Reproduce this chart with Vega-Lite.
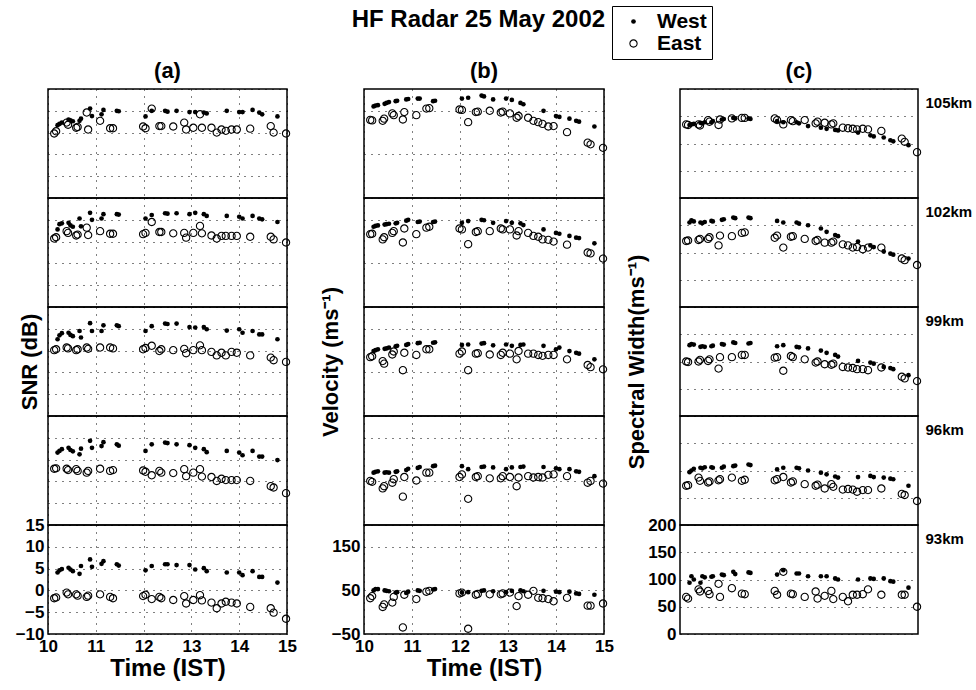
{
"$schema": "https://vega.github.io/schema/vega-lite/v6.json",
"background": "white",
"padding": {"left": 14, "top": 5, "right": 5, "bottom": 5},
"title": {"text": "HF Radar 25 May 2002", "fontSize": 24, "anchor": "middle", "offset": 0, "dy": 26, "dx": -15},
"bounds": "flush",
"align": "all",
"columns": 3,
"spacing": {"row": 0, "column": 76},
"concat": [
{"width": 239, "height": 109, "title": {"text": "(a)", "fontSize": 22, "offset": 6, "anchor": "middle", "frame": "group"}, "data": {"name": "r"}, "transform": [{"filter": "datum.h === '105km'"}], "mark": {"type": "point", "filled": true, "color": "black", "opacity": 1},
 "encoding": {"x": {"field": "t", "type": "quantitative", "scale": {"domain": [10, 15], "nice": false, "zero": false}, "axis": {"values": [10, 11, 12, 13, 14, 15], "labels": false, "title": null}},
  "y": {"field": "a", "type": "quantitative", "scale": {"domain": [-10, 15], "nice": false, "zero": false}, "axis": {"values": [-10, -5, 0, 5, 10, 15], "labels": false, "title": null}},
  "shape": {"field": "d", "type": "nominal", "scale": {"domain": ["West", "East"], "range": ["circle", "M -1 0 A 1 1 0 1 0 1 0 A 1 1 0 1 0 -1 0 Z M -0.74 0 A 0.74 0.74 0 1 1 0.74 0 A 0.74 0.74 0 1 1 -0.74 0 Z"]}, "legend": {"title": null, "labelExpr": "datum.label + '  '"}},
  "size": {"field": "d", "type": "nominal", "scale": {"domain": ["West", "East"], "range": [22, 70]}, "legend": {"title": null, "labelExpr": "datum.label + '  '"}}}},
{"width": 240, "height": 109, "title": {"text": "(b)", "fontSize": 22, "offset": 6, "anchor": "middle", "frame": "group"}, "data": {"name": "r"}, "transform": [{"filter": "datum.h === '105km'"}], "mark": {"type": "point", "filled": true, "color": "black", "opacity": 1},
 "encoding": {"x": {"field": "t", "type": "quantitative", "scale": {"domain": [10, 15], "nice": false, "zero": false}, "axis": {"values": [10, 11, 12, 13, 14, 15], "labels": false, "title": null}},
  "y": {"field": "b", "type": "quantitative", "scale": {"domain": [-50, 200], "nice": false, "zero": false}, "axis": {"values": [-50, 50, 150], "labels": false, "title": null}},
  "shape": {"field": "d", "type": "nominal", "scale": {"domain": ["West", "East"], "range": ["circle", "M -1 0 A 1 1 0 1 0 1 0 A 1 1 0 1 0 -1 0 Z M -0.74 0 A 0.74 0.74 0 1 1 0.74 0 A 0.74 0.74 0 1 1 -0.74 0 Z"]}, "legend": {"title": null, "labelExpr": "datum.label + '  '"}},
  "size": {"field": "d", "type": "nominal", "scale": {"domain": ["West", "East"], "range": [22, 70]}, "legend": {"title": null, "labelExpr": "datum.label + '  '"}}}},
{"width": 238, "height": 109, "title": {"text": "(c)", "fontSize": 22, "offset": 6, "anchor": "middle", "frame": "group"}, "data": {"name": "r"}, "transform": [{"filter": "datum.h === '105km'"}],
 "layer": [
  {"mark": {"type": "point", "filled": true, "color": "black", "opacity": 1},
   "encoding": {"x": {"field": "t", "type": "quantitative", "scale": {"domain": [10, 15], "nice": false, "zero": false}, "axis": {"values": [10, 11, 12, 13, 14, 15], "labels": false, "title": null}},
    "y": {"field": "c", "type": "quantitative", "scale": {"domain": [0, 200], "nice": false, "zero": false}, "axis": {"values": [0, 50, 100, 150, 200], "labels": false, "title": null}},
    "shape": {"field": "d", "type": "nominal", "scale": {"domain": ["West", "East"], "range": ["circle", "M -1 0 A 1 1 0 1 0 1 0 A 1 1 0 1 0 -1 0 Z M -0.74 0 A 0.74 0.74 0 1 1 0.74 0 A 0.74 0.74 0 1 1 -0.74 0 Z"]}, "legend": {"title": null, "labelExpr": "datum.label + '  '"}},
    "size": {"field": "d", "type": "nominal", "scale": {"domain": ["West", "East"], "range": [22, 70]}, "legend": {"title": null, "labelExpr": "datum.label + '  '"}}}},
  {"mark": {"type": "point", "opacity": 0},
   "encoding": {"x": {"field": "t", "type": "quantitative", "axis": null},
    "y": {"field": "c", "type": "quantitative", "scale": {"domain": [0, 200], "nice": false, "zero": false}, "axis": {"orient": "right", "labels": false, "grid": false, "title": "105km", "titleAngle": 0, "titleAlign": "left", "titleBaseline": "top", "titleX": 7, "titleY": 6, "titleFontSize": 15}}}}
 ], "resolve": {"scale": {"y": "independent"}}},
{"width": 239, "height": 109, "data": {"name": "r"}, "transform": [{"filter": "datum.h === '102km'"}], "mark": {"type": "point", "filled": true, "color": "black", "opacity": 1},
 "encoding": {"x": {"field": "t", "type": "quantitative", "scale": {"domain": [10, 15], "nice": false, "zero": false}, "axis": {"values": [10, 11, 12, 13, 14, 15], "labels": false, "title": null}},
  "y": {"field": "a", "type": "quantitative", "scale": {"domain": [-10, 15], "nice": false, "zero": false}, "axis": {"values": [-10, -5, 0, 5, 10, 15], "labels": false, "title": null}},
  "shape": {"field": "d", "type": "nominal", "scale": {"domain": ["West", "East"], "range": ["circle", "M -1 0 A 1 1 0 1 0 1 0 A 1 1 0 1 0 -1 0 Z M -0.74 0 A 0.74 0.74 0 1 1 0.74 0 A 0.74 0.74 0 1 1 -0.74 0 Z"]}, "legend": {"title": null, "labelExpr": "datum.label + '  '"}},
  "size": {"field": "d", "type": "nominal", "scale": {"domain": ["West", "East"], "range": [22, 70]}, "legend": {"title": null, "labelExpr": "datum.label + '  '"}}}},
{"width": 240, "height": 109, "data": {"name": "r"}, "transform": [{"filter": "datum.h === '102km'"}], "mark": {"type": "point", "filled": true, "color": "black", "opacity": 1},
 "encoding": {"x": {"field": "t", "type": "quantitative", "scale": {"domain": [10, 15], "nice": false, "zero": false}, "axis": {"values": [10, 11, 12, 13, 14, 15], "labels": false, "title": null}},
  "y": {"field": "b", "type": "quantitative", "scale": {"domain": [-50, 200], "nice": false, "zero": false}, "axis": {"values": [-50, 50, 150], "labels": false, "title": null}},
  "shape": {"field": "d", "type": "nominal", "scale": {"domain": ["West", "East"], "range": ["circle", "M -1 0 A 1 1 0 1 0 1 0 A 1 1 0 1 0 -1 0 Z M -0.74 0 A 0.74 0.74 0 1 1 0.74 0 A 0.74 0.74 0 1 1 -0.74 0 Z"]}, "legend": {"title": null, "labelExpr": "datum.label + '  '"}},
  "size": {"field": "d", "type": "nominal", "scale": {"domain": ["West", "East"], "range": [22, 70]}, "legend": {"title": null, "labelExpr": "datum.label + '  '"}}}},
{"width": 238, "height": 109, "data": {"name": "r"}, "transform": [{"filter": "datum.h === '102km'"}],
 "layer": [
  {"mark": {"type": "point", "filled": true, "color": "black", "opacity": 1},
   "encoding": {"x": {"field": "t", "type": "quantitative", "scale": {"domain": [10, 15], "nice": false, "zero": false}, "axis": {"values": [10, 11, 12, 13, 14, 15], "labels": false, "title": null}},
    "y": {"field": "c", "type": "quantitative", "scale": {"domain": [0, 200], "nice": false, "zero": false}, "axis": {"values": [0, 50, 100, 150, 200], "labels": false, "title": null}},
    "shape": {"field": "d", "type": "nominal", "scale": {"domain": ["West", "East"], "range": ["circle", "M -1 0 A 1 1 0 1 0 1 0 A 1 1 0 1 0 -1 0 Z M -0.74 0 A 0.74 0.74 0 1 1 0.74 0 A 0.74 0.74 0 1 1 -0.74 0 Z"]}, "legend": {"title": null, "labelExpr": "datum.label + '  '"}},
    "size": {"field": "d", "type": "nominal", "scale": {"domain": ["West", "East"], "range": [22, 70]}, "legend": {"title": null, "labelExpr": "datum.label + '  '"}}}},
  {"mark": {"type": "point", "opacity": 0},
   "encoding": {"x": {"field": "t", "type": "quantitative", "axis": null},
    "y": {"field": "c", "type": "quantitative", "scale": {"domain": [0, 200], "nice": false, "zero": false}, "axis": {"orient": "right", "labels": false, "grid": false, "title": "102km", "titleAngle": 0, "titleAlign": "left", "titleBaseline": "top", "titleX": 7, "titleY": 6, "titleFontSize": 15}}}}
 ], "resolve": {"scale": {"y": "independent"}}},
{"width": 239, "height": 109, "data": {"name": "r"}, "transform": [{"filter": "datum.h === '99km'"}], "mark": {"type": "point", "filled": true, "color": "black", "opacity": 1},
 "encoding": {"x": {"field": "t", "type": "quantitative", "scale": {"domain": [10, 15], "nice": false, "zero": false}, "axis": {"values": [10, 11, 12, 13, 14, 15], "labels": false, "title": null}},
  "y": {"field": "a", "type": "quantitative", "scale": {"domain": [-10, 15], "nice": false, "zero": false}, "axis": {"values": [-10, -5, 0, 5, 10, 15], "labels": false, "title": "SNR (dB)", "titlePadding": 7}},
  "shape": {"field": "d", "type": "nominal", "scale": {"domain": ["West", "East"], "range": ["circle", "M -1 0 A 1 1 0 1 0 1 0 A 1 1 0 1 0 -1 0 Z M -0.74 0 A 0.74 0.74 0 1 1 0.74 0 A 0.74 0.74 0 1 1 -0.74 0 Z"]}, "legend": {"title": null, "labelExpr": "datum.label + '  '"}},
  "size": {"field": "d", "type": "nominal", "scale": {"domain": ["West", "East"], "range": [22, 70]}, "legend": {"title": null, "labelExpr": "datum.label + '  '"}}}},
{"width": 240, "height": 109, "data": {"name": "r"}, "transform": [{"filter": "datum.h === '99km'"}], "mark": {"type": "point", "filled": true, "color": "black", "opacity": 1},
 "encoding": {"x": {"field": "t", "type": "quantitative", "scale": {"domain": [10, 15], "nice": false, "zero": false}, "axis": {"values": [10, 11, 12, 13, 14, 15], "labels": false, "title": null}},
  "y": {"field": "b", "type": "quantitative", "scale": {"domain": [-50, 200], "nice": false, "zero": false}, "axis": {"values": [-50, 50, 150], "labels": false, "title": "Velocity (ms⁻¹)", "titlePadding": 22}},
  "shape": {"field": "d", "type": "nominal", "scale": {"domain": ["West", "East"], "range": ["circle", "M -1 0 A 1 1 0 1 0 1 0 A 1 1 0 1 0 -1 0 Z M -0.74 0 A 0.74 0.74 0 1 1 0.74 0 A 0.74 0.74 0 1 1 -0.74 0 Z"]}, "legend": {"title": null, "labelExpr": "datum.label + '  '"}},
  "size": {"field": "d", "type": "nominal", "scale": {"domain": ["West", "East"], "range": [22, 70]}, "legend": {"title": null, "labelExpr": "datum.label + '  '"}}}},
{"width": 238, "height": 109, "data": {"name": "r"}, "transform": [{"filter": "datum.h === '99km'"}],
 "layer": [
  {"mark": {"type": "point", "filled": true, "color": "black", "opacity": 1},
   "encoding": {"x": {"field": "t", "type": "quantitative", "scale": {"domain": [10, 15], "nice": false, "zero": false}, "axis": {"values": [10, 11, 12, 13, 14, 15], "labels": false, "title": null}},
    "y": {"field": "c", "type": "quantitative", "scale": {"domain": [0, 200], "nice": false, "zero": false}, "axis": {"values": [0, 50, 100, 150, 200], "labels": false, "title": "Spectral Width(ms⁻¹)", "titlePadding": 32}},
    "shape": {"field": "d", "type": "nominal", "scale": {"domain": ["West", "East"], "range": ["circle", "M -1 0 A 1 1 0 1 0 1 0 A 1 1 0 1 0 -1 0 Z M -0.74 0 A 0.74 0.74 0 1 1 0.74 0 A 0.74 0.74 0 1 1 -0.74 0 Z"]}, "legend": {"title": null, "labelExpr": "datum.label + '  '"}},
    "size": {"field": "d", "type": "nominal", "scale": {"domain": ["West", "East"], "range": [22, 70]}, "legend": {"title": null, "labelExpr": "datum.label + '  '"}}}},
  {"mark": {"type": "point", "opacity": 0},
   "encoding": {"x": {"field": "t", "type": "quantitative", "axis": null},
    "y": {"field": "c", "type": "quantitative", "scale": {"domain": [0, 200], "nice": false, "zero": false}, "axis": {"orient": "right", "labels": false, "grid": false, "title": "99km", "titleAngle": 0, "titleAlign": "left", "titleBaseline": "top", "titleX": 7, "titleY": 6, "titleFontSize": 15}}}}
 ], "resolve": {"scale": {"y": "independent"}}},
{"width": 239, "height": 109, "data": {"name": "r"}, "transform": [{"filter": "datum.h === '96km'"}], "mark": {"type": "point", "filled": true, "color": "black", "opacity": 1},
 "encoding": {"x": {"field": "t", "type": "quantitative", "scale": {"domain": [10, 15], "nice": false, "zero": false}, "axis": {"values": [10, 11, 12, 13, 14, 15], "labels": false, "title": null}},
  "y": {"field": "a", "type": "quantitative", "scale": {"domain": [-10, 15], "nice": false, "zero": false}, "axis": {"values": [-10, -5, 0, 5, 10, 15], "labels": false, "title": null}},
  "shape": {"field": "d", "type": "nominal", "scale": {"domain": ["West", "East"], "range": ["circle", "M -1 0 A 1 1 0 1 0 1 0 A 1 1 0 1 0 -1 0 Z M -0.74 0 A 0.74 0.74 0 1 1 0.74 0 A 0.74 0.74 0 1 1 -0.74 0 Z"]}, "legend": {"title": null, "labelExpr": "datum.label + '  '"}},
  "size": {"field": "d", "type": "nominal", "scale": {"domain": ["West", "East"], "range": [22, 70]}, "legend": {"title": null, "labelExpr": "datum.label + '  '"}}}},
{"width": 240, "height": 109, "data": {"name": "r"}, "transform": [{"filter": "datum.h === '96km'"}], "mark": {"type": "point", "filled": true, "color": "black", "opacity": 1},
 "encoding": {"x": {"field": "t", "type": "quantitative", "scale": {"domain": [10, 15], "nice": false, "zero": false}, "axis": {"values": [10, 11, 12, 13, 14, 15], "labels": false, "title": null}},
  "y": {"field": "b", "type": "quantitative", "scale": {"domain": [-50, 200], "nice": false, "zero": false}, "axis": {"values": [-50, 50, 150], "labels": false, "title": null}},
  "shape": {"field": "d", "type": "nominal", "scale": {"domain": ["West", "East"], "range": ["circle", "M -1 0 A 1 1 0 1 0 1 0 A 1 1 0 1 0 -1 0 Z M -0.74 0 A 0.74 0.74 0 1 1 0.74 0 A 0.74 0.74 0 1 1 -0.74 0 Z"]}, "legend": {"title": null, "labelExpr": "datum.label + '  '"}},
  "size": {"field": "d", "type": "nominal", "scale": {"domain": ["West", "East"], "range": [22, 70]}, "legend": {"title": null, "labelExpr": "datum.label + '  '"}}}},
{"width": 238, "height": 109, "data": {"name": "r"}, "transform": [{"filter": "datum.h === '96km'"}],
 "layer": [
  {"mark": {"type": "point", "filled": true, "color": "black", "opacity": 1},
   "encoding": {"x": {"field": "t", "type": "quantitative", "scale": {"domain": [10, 15], "nice": false, "zero": false}, "axis": {"values": [10, 11, 12, 13, 14, 15], "labels": false, "title": null}},
    "y": {"field": "c", "type": "quantitative", "scale": {"domain": [0, 200], "nice": false, "zero": false}, "axis": {"values": [0, 50, 100, 150, 200], "labels": false, "title": null}},
    "shape": {"field": "d", "type": "nominal", "scale": {"domain": ["West", "East"], "range": ["circle", "M -1 0 A 1 1 0 1 0 1 0 A 1 1 0 1 0 -1 0 Z M -0.74 0 A 0.74 0.74 0 1 1 0.74 0 A 0.74 0.74 0 1 1 -0.74 0 Z"]}, "legend": {"title": null, "labelExpr": "datum.label + '  '"}},
    "size": {"field": "d", "type": "nominal", "scale": {"domain": ["West", "East"], "range": [22, 70]}, "legend": {"title": null, "labelExpr": "datum.label + '  '"}}}},
  {"mark": {"type": "point", "opacity": 0},
   "encoding": {"x": {"field": "t", "type": "quantitative", "axis": null},
    "y": {"field": "c", "type": "quantitative", "scale": {"domain": [0, 200], "nice": false, "zero": false}, "axis": {"orient": "right", "labels": false, "grid": false, "title": "96km", "titleAngle": 0, "titleAlign": "left", "titleBaseline": "top", "titleX": 7, "titleY": 6, "titleFontSize": 15}}}}
 ], "resolve": {"scale": {"y": "independent"}}},
{"width": 239, "height": 109, "data": {"name": "r"}, "transform": [{"filter": "datum.h === '93km'"}], "mark": {"type": "point", "filled": true, "color": "black", "opacity": 1},
 "encoding": {"x": {"field": "t", "type": "quantitative", "scale": {"domain": [10, 15], "nice": false, "zero": false}, "axis": {"values": [10, 11, 12, 13, 14, 15], "title": "Time (IST)"}},
  "y": {"field": "a", "type": "quantitative", "scale": {"domain": [-10, 15], "nice": false, "zero": false}, "axis": {"values": [-10, -5, 0, 5, 10, 15], "title": null}},
  "shape": {"field": "d", "type": "nominal", "scale": {"domain": ["West", "East"], "range": ["circle", "M -1 0 A 1 1 0 1 0 1 0 A 1 1 0 1 0 -1 0 Z M -0.74 0 A 0.74 0.74 0 1 1 0.74 0 A 0.74 0.74 0 1 1 -0.74 0 Z"]}, "legend": {"title": null, "labelExpr": "datum.label + '  '"}},
  "size": {"field": "d", "type": "nominal", "scale": {"domain": ["West", "East"], "range": [22, 70]}, "legend": {"title": null, "labelExpr": "datum.label + '  '"}}}},
{"width": 240, "height": 109, "data": {"name": "r"}, "transform": [{"filter": "datum.h === '93km'"}], "mark": {"type": "point", "filled": true, "color": "black", "opacity": 1},
 "encoding": {"x": {"field": "t", "type": "quantitative", "scale": {"domain": [10, 15], "nice": false, "zero": false}, "axis": {"values": [10, 11, 12, 13, 14, 15], "title": "Time (IST)"}},
  "y": {"field": "b", "type": "quantitative", "scale": {"domain": [-50, 200], "nice": false, "zero": false}, "axis": {"values": [-50, 50, 150], "title": null}},
  "shape": {"field": "d", "type": "nominal", "scale": {"domain": ["West", "East"], "range": ["circle", "M -1 0 A 1 1 0 1 0 1 0 A 1 1 0 1 0 -1 0 Z M -0.74 0 A 0.74 0.74 0 1 1 0.74 0 A 0.74 0.74 0 1 1 -0.74 0 Z"]}, "legend": {"title": null, "labelExpr": "datum.label + '  '"}},
  "size": {"field": "d", "type": "nominal", "scale": {"domain": ["West", "East"], "range": [22, 70]}, "legend": {"title": null, "labelExpr": "datum.label + '  '"}}}},
{"width": 238, "height": 109, "data": {"name": "r"}, "transform": [{"filter": "datum.h === '93km'"}],
 "layer": [
  {"mark": {"type": "point", "filled": true, "color": "black", "opacity": 1},
   "encoding": {"x": {"field": "t", "type": "quantitative", "scale": {"domain": [10, 15], "nice": false, "zero": false}, "axis": {"values": [10, 11, 12, 13, 14, 15], "title": "Time (IST)"}},
    "y": {"field": "c", "type": "quantitative", "scale": {"domain": [0, 200], "nice": false, "zero": false}, "axis": {"values": [0, 50, 100, 150, 200], "title": null}},
    "shape": {"field": "d", "type": "nominal", "scale": {"domain": ["West", "East"], "range": ["circle", "M -1 0 A 1 1 0 1 0 1 0 A 1 1 0 1 0 -1 0 Z M -0.74 0 A 0.74 0.74 0 1 1 0.74 0 A 0.74 0.74 0 1 1 -0.74 0 Z"]}, "legend": {"title": null, "labelExpr": "datum.label + '  '"}},
    "size": {"field": "d", "type": "nominal", "scale": {"domain": ["West", "East"], "range": [22, 70]}, "legend": {"title": null, "labelExpr": "datum.label + '  '"}}}},
  {"mark": {"type": "point", "opacity": 0},
   "encoding": {"x": {"field": "t", "type": "quantitative", "axis": null},
    "y": {"field": "c", "type": "quantitative", "scale": {"domain": [0, 200], "nice": false, "zero": false}, "axis": {"orient": "right", "labels": false, "grid": false, "title": "93km", "titleAngle": 0, "titleAlign": "left", "titleBaseline": "top", "titleX": 7, "titleY": 6, "titleFontSize": 15}}}}
 ], "resolve": {"scale": {"y": "independent"}}}
],
"config": {
 "font": "Liberation Sans",
 "view": {"stroke": "black", "strokeWidth": 1.5},
 "axis": {"grid": true, "gridColor": "black", "gridDash": [1, 6], "gridOpacity": 1, "gridWidth": 1, "domain": false, "ticks": false, "labelFont": "Liberation Sans", "labelFontSize": 17, "labelFontWeight": "bold", "labelColor": "black", "labelPadding": 4, "labelOverlap": false, "titleFont": "Liberation Sans", "titleFontSize": 22, "titleFontWeight": "bold", "titleColor": "black"},
 "axisX": {"labelFlush": false, "titleFontSize": 24, "titlePadding": 2},
 "title": {"font": "Liberation Sans", "fontWeight": "bold", "color": "black"},
 "legend": {"orient": "none", "legendX": 564, "legendY": -83, "strokeColor": "black", "padding": 5, "labelFont": "Liberation Sans", "labelFontSize": 21, "labelFontWeight": "bold", "labelColor": "black", "symbolOffset": 6, "rowPadding": 0, "labelOffset": 13}
},
"datasets": {"r": [
{"t":10.13,"h":"105km","d":"East","a":4.8,"b":129,"c":135},
{"t":10.17,"h":"105km","d":"East","a":5.3,"b":128,"c":134},
{"t":10.39,"h":"105km","d":"East","a":7.3,"b":127,"c":135},
{"t":10.42,"h":"105km","d":"East","a":6.8,"b":132,"c":133},
{"t":10.59,"h":"105km","d":"East","a":6.1,"b":144,"c":143},
{"t":10.62,"h":"105km","d":"East","a":6.3,"b":140,"c":140},
{"t":10.81,"h":"105km","d":"East","a":9.6,"b":130,"c":134},
{"t":10.84,"h":"105km","d":"East","a":5.7,"b":147,"c":144},
{"t":11.09,"h":"105km","d":"East","a":7.7,"b":140,"c":146},
{"t":11.30,"h":"105km","d":"East","a":6.0,"b":155,"c":147},
{"t":11.36,"h":"105km","d":"East","a":6.0,"b":156,"c":147},
{"t":11.99,"h":"105km","d":"East","a":6.4,"b":153,"c":146},
{"t":12.04,"h":"105km","d":"East","a":6.0,"b":152,"c":143},
{"t":12.17,"h":"105km","d":"East","a":10.5,"b":124,"c":135},
{"t":12.33,"h":"105km","d":"East","a":6.5,"b":147,"c":143},
{"t":12.37,"h":"105km","d":"East","a":6.5,"b":148,"c":141},
{"t":12.62,"h":"105km","d":"East","a":6.4,"b":150,"c":143},
{"t":12.85,"h":"105km","d":"East","a":7.3,"b":146,"c":137},
{"t":12.89,"h":"105km","d":"East","a":5.7,"b":148,"c":140},
{"t":13.04,"h":"105km","d":"East","a":6.1,"b":144,"c":138},
{"t":13.18,"h":"105km","d":"East","a":9.2,"b":134,"c":135},
{"t":13.22,"h":"105km","d":"East","a":6.1,"b":138,"c":137},
{"t":13.42,"h":"105km","d":"East","a":6.1,"b":134,"c":129},
{"t":13.53,"h":"105km","d":"East","a":5.0,"b":127,"c":128},
{"t":13.63,"h":"105km","d":"East","a":5.7,"b":124,"c":127},
{"t":13.72,"h":"105km","d":"East","a":5.4,"b":120,"c":126},
{"t":13.84,"h":"105km","d":"East","a":5.7,"b":114,"c":127},
{"t":13.95,"h":"105km","d":"East","a":5.7,"b":115,"c":126},
{"t":14.23,"h":"105km","d":"East","a":5.9,"b":101,"c":123},
{"t":14.66,"h":"105km","d":"East","a":6.5,"b":77,"c":109},
{"t":14.72,"h":"105km","d":"East","a":5.0,"b":73,"c":103},
{"t":14.98,"h":"105km","d":"East","a":4.8,"b":65,"c":84},
{"t":10.20,"h":"105km","d":"West","a":6.7,"b":160,"c":134},
{"t":10.24,"h":"105km","d":"West","a":7.0,"b":162,"c":135},
{"t":10.29,"h":"105km","d":"West","a":7.3,"b":163,"c":136},
{"t":10.43,"h":"105km","d":"West","a":8.0,"b":166,"c":138},
{"t":10.47,"h":"105km","d":"West","a":7.8,"b":168,"c":137},
{"t":10.52,"h":"105km","d":"West","a":7.6,"b":170,"c":139},
{"t":10.66,"h":"105km","d":"West","a":7.7,"b":172,"c":139},
{"t":10.69,"h":"105km","d":"West","a":8.2,"b":173,"c":141},
{"t":10.88,"h":"105km","d":"West","a":10.5,"b":176,"c":144},
{"t":10.92,"h":"105km","d":"West","a":8.8,"b":177,"c":145},
{"t":11.12,"h":"105km","d":"West","a":9.2,"b":178,"c":147},
{"t":11.16,"h":"105km","d":"West","a":10.2,"b":178,"c":146},
{"t":11.44,"h":"105km","d":"West","a":10.0,"b":172,"c":146},
{"t":11.48,"h":"105km","d":"West","a":9.9,"b":173,"c":145},
{"t":12.04,"h":"105km","d":"West","a":8.7,"b":178,"c":141},
{"t":12.17,"h":"105km","d":"West","a":10.0,"b":180,"c":139},
{"t":12.45,"h":"105km","d":"West","a":10.0,"b":185,"c":139},
{"t":12.50,"h":"105km","d":"West","a":9.8,"b":183,"c":137},
{"t":12.69,"h":"105km","d":"West","a":10.0,"b":176,"c":132},
{"t":12.96,"h":"105km","d":"West","a":9.7,"b":178,"c":129},
{"t":13.08,"h":"105km","d":"West","a":9.7,"b":175,"c":127},
{"t":13.26,"h":"105km","d":"West","a":9.6,"b":168,"c":125},
{"t":13.32,"h":"105km","d":"West","a":9.4,"b":165,"c":124},
{"t":13.74,"h":"105km","d":"West","a":10.0,"b":150,"c":120},
{"t":14.00,"h":"105km","d":"West","a":9.7,"b":138,"c":115},
{"t":14.07,"h":"105km","d":"West","a":9.7,"b":136,"c":113},
{"t":14.28,"h":"105km","d":"West","a":10.2,"b":132,"c":111},
{"t":14.42,"h":"105km","d":"West","a":9.6,"b":127,"c":106},
{"t":14.48,"h":"105km","d":"West","a":9.2,"b":125,"c":104},
{"t":14.80,"h":"105km","d":"West","a":8.7,"b":114,"c":97},
{"t":10.13,"h":"102km","d":"East","a":5.7,"b":117,"c":121},
{"t":10.17,"h":"102km","d":"East","a":6.0,"b":118,"c":122},
{"t":10.39,"h":"102km","d":"East","a":7.4,"b":105,"c":123},
{"t":10.42,"h":"102km","d":"East","a":7.0,"b":110,"c":125},
{"t":10.59,"h":"102km","d":"East","a":6.4,"b":120,"c":125},
{"t":10.62,"h":"102km","d":"East","a":6.6,"b":124,"c":128},
{"t":10.81,"h":"102km","d":"East","a":8.2,"b":98,"c":113},
{"t":10.84,"h":"102km","d":"East","a":6.5,"b":130,"c":131},
{"t":11.09,"h":"102km","d":"East","a":7.4,"b":117,"c":130},
{"t":11.30,"h":"102km","d":"East","a":6.8,"b":132,"c":136},
{"t":11.36,"h":"102km","d":"East","a":6.8,"b":134,"c":137},
{"t":11.99,"h":"102km","d":"East","a":6.7,"b":130,"c":127},
{"t":12.04,"h":"102km","d":"East","a":7.0,"b":128,"c":131},
{"t":12.17,"h":"102km","d":"East","a":9.5,"b":94,"c":109},
{"t":12.33,"h":"102km","d":"East","a":7.2,"b":122,"c":129},
{"t":12.37,"h":"102km","d":"East","a":7.2,"b":124,"c":130},
{"t":12.62,"h":"102km","d":"East","a":6.9,"b":124,"c":125},
{"t":12.85,"h":"102km","d":"East","a":7.0,"b":130,"c":121},
{"t":12.89,"h":"102km","d":"East","a":5.9,"b":128,"c":123},
{"t":13.04,"h":"102km","d":"East","a":7.0,"b":128,"c":118},
{"t":13.18,"h":"102km","d":"East","a":8.6,"b":114,"c":118},
{"t":13.22,"h":"102km","d":"East","a":6.9,"b":124,"c":120},
{"t":13.42,"h":"102km","d":"East","a":6.4,"b":120,"c":115},
{"t":13.53,"h":"102km","d":"East","a":5.7,"b":113,"c":113},
{"t":13.63,"h":"102km","d":"East","a":6.3,"b":111,"c":109},
{"t":13.72,"h":"102km","d":"East","a":6.3,"b":105,"c":110},
{"t":13.84,"h":"102km","d":"East","a":6.3,"b":104,"c":106},
{"t":13.95,"h":"102km","d":"East","a":6.3,"b":100,"c":109},
{"t":14.23,"h":"102km","d":"East","a":6.1,"b":93,"c":109},
{"t":14.66,"h":"102km","d":"East","a":6.1,"b":75,"c":89},
{"t":14.72,"h":"102km","d":"East","a":5.5,"b":73,"c":86},
{"t":14.98,"h":"102km","d":"East","a":4.8,"b":61,"c":77},
{"t":10.20,"h":"102km","d":"West","a":7.8,"b":134,"c":155},
{"t":10.24,"h":"102km","d":"West","a":9.0,"b":136,"c":159},
{"t":10.29,"h":"102km","d":"West","a":9.2,"b":137,"c":157},
{"t":10.43,"h":"102km","d":"West","a":9.3,"b":139,"c":155},
{"t":10.47,"h":"102km","d":"West","a":8.7,"b":140,"c":154},
{"t":10.52,"h":"102km","d":"West","a":8.4,"b":141,"c":156},
{"t":10.66,"h":"102km","d":"West","a":10.3,"b":142,"c":158},
{"t":10.69,"h":"102km","d":"West","a":8.5,"b":143,"c":157},
{"t":10.88,"h":"102km","d":"West","a":11.6,"b":148,"c":160},
{"t":10.92,"h":"102km","d":"West","a":10.0,"b":150,"c":161},
{"t":11.12,"h":"102km","d":"West","a":10.3,"b":145,"c":164},
{"t":11.16,"h":"102km","d":"West","a":11.3,"b":146,"c":163},
{"t":11.44,"h":"102km","d":"West","a":11.3,"b":145,"c":164},
{"t":11.48,"h":"102km","d":"West","a":11.2,"b":146,"c":163},
{"t":12.04,"h":"102km","d":"West","a":10.3,"b":143,"c":158},
{"t":12.17,"h":"102km","d":"West","a":11.1,"b":147,"c":155},
{"t":12.45,"h":"102km","d":"West","a":11.5,"b":150,"c":155},
{"t":12.50,"h":"102km","d":"West","a":11.4,"b":149,"c":153},
{"t":12.69,"h":"102km","d":"West","a":11.5,"b":143,"c":150},
{"t":12.96,"h":"102km","d":"West","a":11.3,"b":147,"c":144},
{"t":13.08,"h":"102km","d":"West","a":11.6,"b":143,"c":138},
{"t":13.26,"h":"102km","d":"West","a":11.3,"b":142,"c":132},
{"t":13.32,"h":"102km","d":"West","a":10.9,"b":138,"c":130},
{"t":13.74,"h":"102km","d":"West","a":10.9,"b":128,"c":120},
{"t":14.00,"h":"102km","d":"West","a":10.7,"b":120,"c":113},
{"t":14.07,"h":"102km","d":"West","a":10.3,"b":118,"c":110},
{"t":14.28,"h":"102km","d":"West","a":10.9,"b":113,"c":102},
{"t":14.42,"h":"102km","d":"West","a":10.3,"b":109,"c":98},
{"t":14.48,"h":"102km","d":"West","a":10.1,"b":108,"c":96},
{"t":14.80,"h":"102km","d":"West","a":9.5,"b":96,"c":89},
{"t":10.13,"h":"99km","d":"East","a":5.1,"b":85,"c":100},
{"t":10.17,"h":"99km","d":"East","a":5.3,"b":87,"c":99},
{"t":10.39,"h":"99km","d":"East","a":5.7,"b":76,"c":100},
{"t":10.42,"h":"99km","d":"East","a":5.5,"b":70,"c":103},
{"t":10.59,"h":"99km","d":"East","a":5.1,"b":91,"c":101},
{"t":10.62,"h":"99km","d":"East","a":5.3,"b":98,"c":104},
{"t":10.81,"h":"99km","d":"East","a":5.7,"b":55,"c":87},
{"t":10.84,"h":"99km","d":"East","a":5.4,"b":95,"c":108},
{"t":11.09,"h":"99km","d":"East","a":5.7,"b":90,"c":108},
{"t":11.30,"h":"99km","d":"East","a":5.7,"b":103,"c":112},
{"t":11.36,"h":"99km","d":"East","a":5.5,"b":103,"c":112},
{"t":11.99,"h":"99km","d":"East","a":5.3,"b":93,"c":107},
{"t":12.04,"h":"99km","d":"East","a":5.6,"b":98,"c":108},
{"t":12.17,"h":"99km","d":"East","a":6.1,"b":55,"c":83},
{"t":12.33,"h":"99km","d":"East","a":4.9,"b":93,"c":110},
{"t":12.37,"h":"99km","d":"East","a":5.3,"b":94,"c":108},
{"t":12.62,"h":"99km","d":"East","a":5.1,"b":91,"c":104},
{"t":12.85,"h":"99km","d":"East","a":5.4,"b":90,"c":98},
{"t":12.89,"h":"99km","d":"East","a":4.4,"b":95,"c":100},
{"t":13.04,"h":"99km","d":"East","a":5.1,"b":93,"c":95},
{"t":13.18,"h":"99km","d":"East","a":6.2,"b":80,"c":94},
{"t":13.22,"h":"99km","d":"East","a":5.1,"b":99,"c":96},
{"t":13.42,"h":"99km","d":"East","a":4.7,"b":93,"c":90},
{"t":13.53,"h":"99km","d":"East","a":3.9,"b":93,"c":89},
{"t":13.63,"h":"99km","d":"East","a":4.5,"b":90,"c":88},
{"t":13.72,"h":"99km","d":"East","a":3.9,"b":88,"c":86},
{"t":13.84,"h":"99km","d":"East","a":4.7,"b":90,"c":86},
{"t":13.95,"h":"99km","d":"East","a":4.5,"b":90,"c":84},
{"t":14.23,"h":"99km","d":"East","a":3.9,"b":80,"c":89},
{"t":14.66,"h":"99km","d":"East","a":3.4,"b":67,"c":72},
{"t":14.72,"h":"99km","d":"East","a":2.8,"b":62,"c":69},
{"t":14.98,"h":"99km","d":"East","a":2.4,"b":57,"c":64},
{"t":10.20,"h":"99km","d":"West","a":7.6,"b":99,"c":130},
{"t":10.24,"h":"99km","d":"West","a":8.5,"b":101,"c":132},
{"t":10.29,"h":"99km","d":"West","a":9.0,"b":103,"c":131},
{"t":10.43,"h":"99km","d":"West","a":9.1,"b":104,"c":127},
{"t":10.47,"h":"99km","d":"West","a":8.6,"b":105,"c":128},
{"t":10.52,"h":"99km","d":"West","a":8.3,"b":107,"c":127},
{"t":10.66,"h":"99km","d":"West","a":9.5,"b":110,"c":128},
{"t":10.69,"h":"99km","d":"West","a":8.0,"b":111,"c":129},
{"t":10.88,"h":"99km","d":"West","a":11.3,"b":113,"c":132},
{"t":10.92,"h":"99km","d":"West","a":9.5,"b":115,"c":131},
{"t":11.12,"h":"99km","d":"West","a":9.5,"b":117,"c":135},
{"t":11.16,"h":"99km","d":"West","a":10.8,"b":118,"c":134},
{"t":11.44,"h":"99km","d":"West","a":10.8,"b":118,"c":133},
{"t":11.48,"h":"99km","d":"West","a":10.6,"b":119,"c":134},
{"t":12.04,"h":"99km","d":"West","a":9.5,"b":113,"c":128},
{"t":12.17,"h":"99km","d":"West","a":10.6,"b":114,"c":130},
{"t":12.45,"h":"99km","d":"West","a":11.2,"b":116,"c":127},
{"t":12.50,"h":"99km","d":"West","a":11.1,"b":117,"c":126},
{"t":12.69,"h":"99km","d":"West","a":11.2,"b":112,"c":124},
{"t":12.96,"h":"99km","d":"West","a":10.4,"b":114,"c":120},
{"t":13.08,"h":"99km","d":"West","a":10.3,"b":111,"c":116},
{"t":13.26,"h":"99km","d":"West","a":10.4,"b":113,"c":112},
{"t":13.32,"h":"99km","d":"West","a":9.9,"b":114,"c":109},
{"t":13.74,"h":"99km","d":"West","a":9.6,"b":111,"c":101},
{"t":14.00,"h":"99km","d":"West","a":9.9,"b":103,"c":98},
{"t":14.07,"h":"99km","d":"West","a":9.1,"b":107,"c":96},
{"t":14.28,"h":"99km","d":"West","a":9.5,"b":99,"c":90},
{"t":14.42,"h":"99km","d":"West","a":8.7,"b":95,"c":88},
{"t":14.48,"h":"99km","d":"West","a":8.7,"b":93,"c":86},
{"t":14.80,"h":"99km","d":"West","a":7.6,"b":80,"c":75},
{"t":10.13,"h":"96km","d":"East","a":2.9,"b":51,"c":72},
{"t":10.17,"h":"96km","d":"East","a":3.0,"b":49,"c":73},
{"t":10.39,"h":"96km","d":"East","a":2.9,"b":34,"c":87},
{"t":10.42,"h":"96km","d":"East","a":2.6,"b":39,"c":81},
{"t":10.59,"h":"96km","d":"East","a":2.8,"b":47,"c":78},
{"t":10.62,"h":"96km","d":"East","a":2.4,"b":55,"c":80},
{"t":10.81,"h":"96km","d":"East","a":2.0,"b":15,"c":82},
{"t":10.84,"h":"96km","d":"East","a":2.4,"b":60,"c":84},
{"t":11.09,"h":"96km","d":"East","a":2.9,"b":52,"c":87},
{"t":11.30,"h":"96km","d":"East","a":2.4,"b":70,"c":81},
{"t":11.36,"h":"96km","d":"East","a":2.6,"b":70,"c":83},
{"t":11.99,"h":"96km","d":"East","a":2.5,"b":60,"c":82},
{"t":12.04,"h":"96km","d":"East","a":2.2,"b":66,"c":84},
{"t":12.17,"h":"96km","d":"East","a":1.4,"b":10,"c":88},
{"t":12.33,"h":"96km","d":"East","a":2.4,"b":60,"c":78},
{"t":12.37,"h":"96km","d":"East","a":2.0,"b":62,"c":80},
{"t":12.62,"h":"96km","d":"East","a":1.9,"b":57,"c":75},
{"t":12.85,"h":"96km","d":"East","a":2.8,"b":57,"c":72},
{"t":12.89,"h":"96km","d":"East","a":1.2,"b":62,"c":74},
{"t":13.04,"h":"96km","d":"East","a":2.0,"b":60,"c":67},
{"t":13.18,"h":"96km","d":"East","a":2.8,"b":39,"c":75},
{"t":13.22,"h":"96km","d":"East","a":1.1,"b":59,"c":70},
{"t":13.42,"h":"96km","d":"East","a":1.0,"b":62,"c":65},
{"t":13.53,"h":"96km","d":"East","a":0.1,"b":59,"c":66},
{"t":13.63,"h":"96km","d":"East","a":0.6,"b":60,"c":65},
{"t":13.72,"h":"96km","d":"East","a":0.3,"b":59,"c":61},
{"t":13.84,"h":"96km","d":"East","a":0.3,"b":65,"c":64},
{"t":13.95,"h":"96km","d":"East","a":0.3,"b":66,"c":64},
{"t":14.23,"h":"96km","d":"East","a":0.1,"b":62,"c":67},
{"t":14.66,"h":"96km","d":"East","a":-1.1,"b":47,"c":57},
{"t":14.72,"h":"96km","d":"East","a":-1.4,"b":51,"c":55},
{"t":14.98,"h":"96km","d":"East","a":-2.7,"b":45,"c":44},
{"t":10.20,"h":"96km","d":"West","a":6.6,"b":70,"c":97},
{"t":10.24,"h":"96km","d":"West","a":7.0,"b":72,"c":100},
{"t":10.29,"h":"96km","d":"West","a":7.4,"b":73,"c":103},
{"t":10.43,"h":"96km","d":"West","a":7.7,"b":70,"c":105},
{"t":10.47,"h":"96km","d":"West","a":7.2,"b":71,"c":104},
{"t":10.52,"h":"96km","d":"West","a":6.9,"b":70,"c":106},
{"t":10.66,"h":"96km","d":"West","a":6.2,"b":72,"c":106},
{"t":10.69,"h":"96km","d":"West","a":7.5,"b":73,"c":105},
{"t":10.88,"h":"96km","d":"West","a":9.3,"b":76,"c":105},
{"t":10.92,"h":"96km","d":"West","a":7.7,"b":79,"c":107},
{"t":11.12,"h":"96km","d":"West","a":8.1,"b":81,"c":108},
{"t":11.16,"h":"96km","d":"West","a":9.0,"b":83,"c":109},
{"t":11.44,"h":"96km","d":"West","a":8.5,"b":85,"c":111},
{"t":11.48,"h":"96km","d":"West","a":8.2,"b":86,"c":110},
{"t":12.04,"h":"96km","d":"West","a":7.0,"b":85,"c":102},
{"t":12.17,"h":"96km","d":"West","a":8.5,"b":78,"c":105},
{"t":12.45,"h":"96km","d":"West","a":8.9,"b":83,"c":105},
{"t":12.50,"h":"96km","d":"West","a":8.8,"b":84,"c":104},
{"t":12.69,"h":"96km","d":"West","a":8.5,"b":82,"c":100},
{"t":12.96,"h":"96km","d":"West","a":8.3,"b":78,"c":96},
{"t":13.08,"h":"96km","d":"West","a":7.7,"b":82,"c":93},
{"t":13.26,"h":"96km","d":"West","a":7.4,"b":83,"c":89},
{"t":13.32,"h":"96km","d":"West","a":6.7,"b":84,"c":87},
{"t":13.74,"h":"96km","d":"West","a":7.0,"b":83,"c":88},
{"t":14.00,"h":"96km","d":"West","a":6.6,"b":80,"c":90},
{"t":14.07,"h":"96km","d":"West","a":6.0,"b":78,"c":88},
{"t":14.28,"h":"96km","d":"West","a":7.0,"b":78,"c":87},
{"t":14.42,"h":"96km","d":"West","a":5.7,"b":73,"c":85},
{"t":14.48,"h":"96km","d":"West","a":5.7,"b":72,"c":84},
{"t":14.80,"h":"96km","d":"West","a":4.9,"b":62,"c":72},
{"t":10.13,"h":"93km","d":"East","a":-1.8,"b":32,"c":68},
{"t":10.17,"h":"93km","d":"East","a":-1.6,"b":37,"c":65},
{"t":10.39,"h":"93km","d":"East","a":-0.5,"b":12,"c":82},
{"t":10.42,"h":"93km","d":"East","a":-0.9,"b":18,"c":78},
{"t":10.59,"h":"93km","d":"East","a":-0.9,"b":22,"c":79},
{"t":10.62,"h":"93km","d":"East","a":-1.2,"b":35,"c":73},
{"t":10.81,"h":"93km","d":"East","a":-1.5,"b":-35,"c":92},
{"t":10.84,"h":"93km","d":"East","a":-1.2,"b":40,"c":68},
{"t":11.09,"h":"93km","d":"East","a":-0.9,"b":30,"c":84},
{"t":11.30,"h":"93km","d":"East","a":-1.5,"b":47,"c":74},
{"t":11.36,"h":"93km","d":"East","a":-1.8,"b":49,"c":73},
{"t":11.99,"h":"93km","d":"East","a":-1.3,"b":43,"c":79},
{"t":12.04,"h":"93km","d":"East","a":-1.0,"b":45,"c":72},
{"t":12.17,"h":"93km","d":"East","a":-2.0,"b":-38,"c":114},
{"t":12.33,"h":"93km","d":"East","a":-1.5,"b":40,"c":74},
{"t":12.37,"h":"93km","d":"East","a":-1.8,"b":42,"c":73},
{"t":12.62,"h":"93km","d":"East","a":-2.2,"b":41,"c":68},
{"t":12.85,"h":"93km","d":"East","a":-1.3,"b":41,"c":78},
{"t":12.89,"h":"93km","d":"East","a":-3.0,"b":43,"c":65},
{"t":13.04,"h":"93km","d":"East","a":-2.2,"b":45,"c":70},
{"t":13.18,"h":"93km","d":"East","a":-1.1,"b":14,"c":79},
{"t":13.22,"h":"93km","d":"East","a":-2.3,"b":37,"c":64},
{"t":13.42,"h":"93km","d":"East","a":-2.8,"b":40,"c":68},
{"t":13.53,"h":"93km","d":"East","a":-4.1,"b":49,"c":60},
{"t":13.63,"h":"93km","d":"East","a":-3.0,"b":33,"c":72},
{"t":13.72,"h":"93km","d":"East","a":-2.6,"b":32,"c":72},
{"t":13.84,"h":"93km","d":"East","a":-2.8,"b":30,"c":73},
{"t":13.95,"h":"93km","d":"East","a":-3.0,"b":25,"c":82},
{"t":14.23,"h":"93km","d":"East","a":-3.8,"b":33,"c":72},
{"t":14.66,"h":"93km","d":"East","a":-4.1,"b":15,"c":72},
{"t":14.72,"h":"93km","d":"East","a":-5.1,"b":15,"c":72},
{"t":14.98,"h":"93km","d":"East","a":-6.5,"b":20,"c":50},
{"t":10.20,"h":"93km","d":"West","a":4.1,"b":50,"c":94},
{"t":10.24,"h":"93km","d":"West","a":4.6,"b":53,"c":106},
{"t":10.29,"h":"93km","d":"West","a":4.9,"b":53,"c":100},
{"t":10.43,"h":"93km","d":"West","a":5.2,"b":50,"c":94},
{"t":10.47,"h":"93km","d":"West","a":4.8,"b":49,"c":106},
{"t":10.52,"h":"93km","d":"West","a":4.4,"b":48,"c":104},
{"t":10.66,"h":"93km","d":"West","a":3.8,"b":45,"c":105},
{"t":10.69,"h":"93km","d":"West","a":5.6,"b":46,"c":106},
{"t":10.88,"h":"93km","d":"West","a":7.1,"b":44,"c":109},
{"t":10.92,"h":"93km","d":"West","a":5.4,"b":47,"c":108},
{"t":11.12,"h":"93km","d":"West","a":6.1,"b":50,"c":114},
{"t":11.16,"h":"93km","d":"West","a":6.7,"b":49,"c":110},
{"t":11.44,"h":"93km","d":"West","a":6.0,"b":52,"c":113},
{"t":11.48,"h":"93km","d":"West","a":5.7,"b":53,"c":112},
{"t":12.04,"h":"93km","d":"West","a":4.6,"b":45,"c":109},
{"t":12.17,"h":"93km","d":"West","a":5.6,"b":46,"c":117},
{"t":12.45,"h":"93km","d":"West","a":6.0,"b":49,"c":111},
{"t":12.50,"h":"93km","d":"West","a":6.0,"b":50,"c":111},
{"t":12.69,"h":"93km","d":"West","a":5.8,"b":48,"c":106},
{"t":12.96,"h":"93km","d":"West","a":5.8,"b":46,"c":106},
{"t":13.08,"h":"93km","d":"West","a":4.8,"b":49,"c":106},
{"t":13.26,"h":"93km","d":"West","a":5.1,"b":50,"c":102},
{"t":13.32,"h":"93km","d":"West","a":4.4,"b":48,"c":100},
{"t":13.74,"h":"93km","d":"West","a":4.1,"b":49,"c":100},
{"t":14.00,"h":"93km","d":"West","a":4.1,"b":47,"c":102},
{"t":14.07,"h":"93km","d":"West","a":3.5,"b":46,"c":101},
{"t":14.28,"h":"93km","d":"West","a":4.4,"b":47,"c":102},
{"t":14.42,"h":"93km","d":"West","a":3.1,"b":43,"c":97},
{"t":14.48,"h":"93km","d":"West","a":3.1,"b":42,"c":96},
{"t":14.80,"h":"93km","d":"West","a":1.8,"b":40,"c":85}
]}
}
